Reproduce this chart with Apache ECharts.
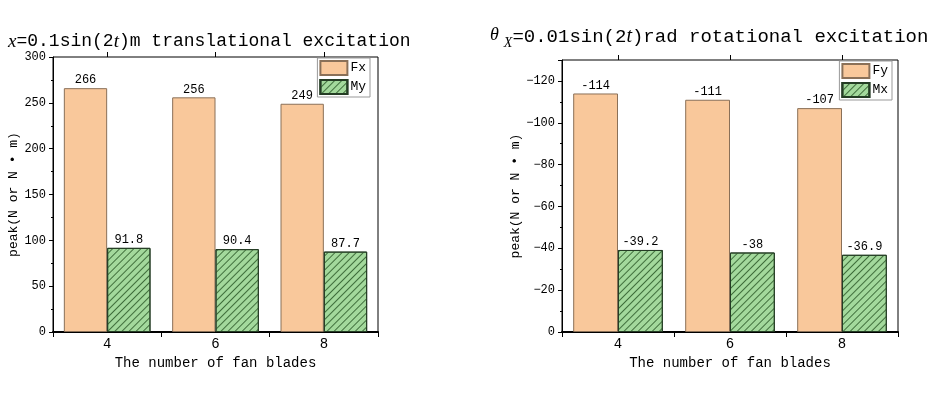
<!DOCTYPE html>
<html><head><meta charset="utf-8">
<script src="https://cdn.jsdelivr.net/npm/echarts@6/dist/echarts.min.js"></script>
<style>html,body{margin:0;padding:0;background:#fff}#c{width:942px;height:399px}</style>
</head><body><div id="c"></div>
<script>
const categories = ['4', '6', '8'];
const fxValues = [266, 256, 249];
const myValues = [91.8, 90.4, 87.7];
const fyValues = [-114, -111, -107];
const mxValues = [-39.2, -38, -36.9];
const leftTicks = [0, 50, 100, 150, 200, 250, 300];
const rightTicks = [0, -20, -40, -60, -80, -100, -120];

const FONT = 'Liberation Mono';
const ORANGE = '#f9c89b', ORANGE_B = '#8a7058';
const GREEN = '#a3d99c', GREEN_B = '#243c24';
const hatch = {symbol: 'rect', symbolSize: 1, dashArrayX: [1, 0], dashArrayY: [1, 4], rotation: -Math.PI / 4, color: '#3f6e3b'};

const chart = echarts.init(document.getElementById('c'), null, {renderer: 'canvas'});

function catAxis(grid, withLine) {
  return {
    type: 'category', gridIndex: grid, data: categories,
    axisLine: {show: withLine, lineStyle: {color: '#000', width: 2}},
    axisTick: {show: true, length: 5, lineStyle: {color: '#000'}, alignWithLabel: !withLine},
    axisLabel: {show: withLine, fontFamily: FONT, fontSize: 14, color: '#000', margin: 5},
    name: withLine ? 'The number of fan blades' : '', nameLocation: 'middle', nameGap: 22,
    nameTextStyle: {fontFamily: FONT, fontSize: 14, color: '#000'},
    splitLine: {show: false}
  };
}
function valAxis(grid, opts) {
  return Object.assign({
    type: 'value', gridIndex: grid,
    axisLine: {show: true, lineStyle: {color: '#000', width: 1}},
    axisTick: {show: true, length: 4, lineStyle: {color: '#000'}},
    minorTick: {show: true, splitNumber: 2, length: 2, lineStyle: {color: '#000'}},
    axisLabel: {fontFamily: FONT, fontSize: 12, color: '#000', margin: 7},
    splitLine: {show: false},
    name: 'peak(N or N \u2022 m)', nameLocation: 'middle', nameGap: 32,
    nameTextStyle: {fontFamily: FONT, fontSize: 13, color: '#000'}
  }, opts);
}
function barSeries(name, data, x, y, color, border, decal) {
  return {
    type: 'bar', name: name, data: data, xAxisIndex: x, yAxisIndex: y,
    barWidth: '40%', barGap: '0%',
    itemStyle: {color: color, borderColor: border, borderWidth: 1, decal: decal || null},
    label: {show: true, position: 'outside', distance: 2, fontFamily: FONT, fontSize: 12, color: '#000'}
  };
}

chart.setOption({
  animation: false,
  aria: {enabled: false},
  title: [
    {text: '{i|x}=0.1sin(2{i|t})m translational excitation', left: 3, top: 27,
     textStyle: {fontFamily: FONT, fontSize: 18, fontWeight: 'normal', color: '#000',
       rich: {i: {fontFamily: 'Liberation Serif', fontStyle: 'italic', fontSize: 19, color: '#000'}}}},
    {text: '{th|\u03b8}{sub|X}=0.01sin(2{i|t})rad rotational excitation', left: 485, top: 19,
     textStyle: {fontFamily: FONT, fontSize: 19, fontWeight: 'normal', color: '#000',
       rich: {
         th: {fontFamily: 'Liberation Serif', fontStyle: 'italic', fontSize: 18, color: '#000', verticalAlign: 'top', padding: [2, 5, 0, 0]},
         sub: {fontFamily: 'Liberation Serif', fontStyle: 'italic', fontSize: 14, color: '#000', verticalAlign: 'bottom', padding: [12, 0, 0, 0]},
         i: {fontFamily: 'Liberation Serif', fontStyle: 'italic', fontSize: 20, color: '#000'}
       }}}
  ],
  legend: [
    {data: ['Fx', 'My'], orient: 'vertical', right: 572, top: 58, itemGap: 3,
     itemWidth: 27, itemHeight: 14, padding: [2, 4, 2, 2], borderColor: '#999', borderWidth: 1,
     textStyle: {fontFamily: FONT, fontSize: 13, color: '#000', padding: [0, 0, 0, -2]}, icon: 'rect'},
    {data: ['Fy', 'Mx'], orient: 'vertical', right: 50, top: 61, itemGap: 3,
     itemWidth: 27, itemHeight: 14, padding: [2, 4, 2, 2], borderColor: '#999', borderWidth: 1,
     textStyle: {fontFamily: FONT, fontSize: 13, color: '#000', padding: [0, 0, 0, -2]}, icon: 'rect'}
  ],
  grid: [
    {left: 53, right: 564, top: 57, bottom: 67, show: true, borderColor: '#000', borderWidth: 1, backgroundColor: 'transparent'},
    {left: 562, right: 44, top: 60, bottom: 67, show: true, borderColor: '#000', borderWidth: 1, backgroundColor: 'transparent'}
  ],
  xAxis: [catAxis(0, true), catAxis(0, false), catAxis(1, true), catAxis(1, false)],
  yAxis: [
    valAxis(0, {min: leftTicks[0], max: leftTicks[leftTicks.length - 1], interval: 50}),
    valAxis(1, {min: -130, max: rightTicks[0], splitNumber: 6, inverse: true,
      axisLabel: {fontFamily: FONT, fontSize: 12, color: '#000', margin: 7,
        formatter: v => (rightTicks.indexOf(v) >= 0 ? String(v).replace('-', '\u2212') : '')}})
  ],
  series: [
    barSeries('Fx', fxValues, 0, 0, ORANGE, ORANGE_B),
    barSeries('My', myValues, 0, 0, GREEN, GREEN_B, hatch),
    barSeries('Fy', fyValues, 2, 1, ORANGE, ORANGE_B),
    barSeries('Mx', mxValues, 2, 1, GREEN, GREEN_B, hatch)
  ]
});
</script></body></html>
